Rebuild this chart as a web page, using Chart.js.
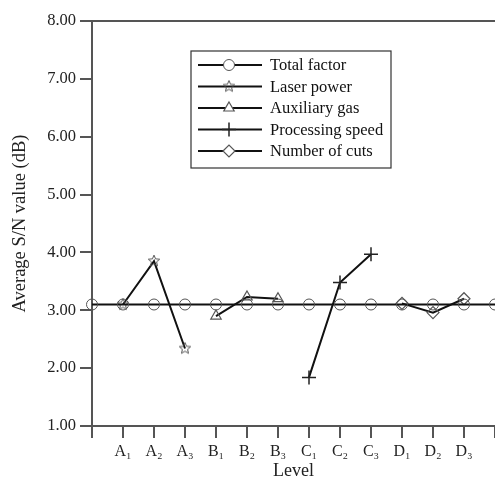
<!DOCTYPE html>
<html>
<head>
<meta charset="utf-8">
<script src="https://cdn.jsdelivr.net/npm/chart.js@4.4.0/dist/chart.umd.min.js"></script>
<style>
  html, body { margin: 0; padding: 0; background: #fff; }
  #wrap { width: 495px; height: 480px; position: relative; }
</style>
</head>
<body>
<div id="wrap"><canvas id="snChart"></canvas></div>
<script>
// level labels (blank at both ends like the original plot)
const levels = ['', 'A\u2081', 'A\u2082', 'A\u2083', 'B\u2081', 'B\u2082', 'B\u2083', 'C\u2081', 'C\u2082', 'C\u2083', 'D\u2081', 'D\u2082', 'D\u2083', ''];

const totalFactor = [3.10, 3.10, 3.10, 3.10, 3.10, 3.10, 3.10, 3.10, 3.10, 3.10, 3.10, 3.10, 3.10, 3.10];
const laserPower = [null, 3.10, 3.85, 2.34, null, null, null, null, null, null, null, null, null, null];
const auxGas = [null, null, null, null, 2.90, 3.23, 3.20, null, null, null, null, null, null, null];
const procSpeed = [null, null, null, null, null, null, null, 1.84, 3.48, 3.97, null, null, null, null];
const numCuts = [null, null, null, null, null, null, null, null, null, null, 3.12, 2.96, 3.20, null];

const yTicks = [1, 2, 3, 4, 5, 6, 7, 8];

const axisGray = '#555';
const serif = "'Liberation Serif', 'Times New Roman', serif";

// outline 5-point star marker
function makeStar(r) {
    const c = document.createElement('canvas');
    c.width = r * 2 + 4;
    c.height = r * 2 + 4;
    const g = c.getContext('2d');
    const cx = c.width / 2, cy = c.height / 2;
    g.beginPath();
    for (let i = 0; i < 10; i++) {
        const rad = i % 2 === 0 ? r : r * 0.45;
        const a = -Math.PI / 2 + i * Math.PI / 5;
        const px = cx + rad * Math.cos(a), py = cy + rad * Math.sin(a);
        if (i === 0) g.moveTo(px, py); else g.lineTo(px, py);
    }
    g.closePath();
    g.strokeStyle = axisGray;
    g.lineWidth = 1;
    g.stroke();
    return c;
}
const star = makeStar(6);

function series(label, data, style, radius, pColor, pWidth) {
    return {
        label: label,
        data: data,
        borderColor: '#111',
        borderWidth: 2,
        pointStyle: style,
        pointRadius: radius,
        pointHoverRadius: radius,
        pointBorderColor: pColor,
        pointBorderWidth: pWidth,
        pointBackgroundColor: 'transparent',
        spanGaps: false,
        tension: 0,
        clip: false
    };
}

const sets = [
    series('Total factor', totalFactor, 'circle', 5.5, axisGray, 1),
    series('Laser power', laserPower, star, 6, axisGray, 1),
    series('Auxiliary gas', auxGas, 'triangle', 6, axisGray, 1.2),
    series('Processing speed', procSpeed, 'cross', 7, '#222', 1.5),
    series('Number of cuts', numCuts, 'rectRot', 6, axisGray, 1.2)
];

// legend box with line + marker samples
const boxLegend = {
    id: 'boxLegend',
    afterDraw(c) {
        const ctx = c.ctx;
        const bx = 191, by = 51, bw = 200, bh = 117;
        ctx.save();
        ctx.strokeStyle = '#333';
        ctx.lineWidth = 1.2;
        ctx.strokeRect(bx, by, bw, bh);
        ctx.font = '16.5px ' + serif;
        ctx.textBaseline = 'middle';
        ctx.fillStyle = '#111';
        sets.forEach((ds, i) => {
            const y = 65 + i * 21.5;
            ctx.beginPath();
            ctx.strokeStyle = '#111';
            ctx.lineWidth = 2;
            ctx.moveTo(198, y);
            ctx.lineTo(262, y);
            ctx.stroke();
            ctx.fillStyle = '#fff';
            ctx.strokeStyle = ds.pointBorderColor;
            ctx.lineWidth = ds.pointBorderWidth;
            Chart.helpers.drawPoint(ctx, {pointStyle: ds.pointStyle, radius: ds.pointRadius, borderWidth: ds.pointBorderWidth, rotation: 0}, 229, y);
            ctx.fillStyle = '#111';
            ctx.fillText(ds.label, 270, y + 1);
        });
        // top frame line
        const a = c.chartArea;
        ctx.beginPath();
        ctx.strokeStyle = axisGray;
        ctx.lineWidth = 2;
        ctx.moveTo(a.left, a.top);
        ctx.lineTo(c.width, a.top);
        ctx.stroke();
        ctx.restore();
    }
};

let snChart = new Chart(document.getElementById('snChart').getContext('2d'), {
    type: 'line',
    data: {
        labels: levels,
        datasets: sets
    },
    options: {
        responsive: true,
        maintainAspectRatio: false,
        animation: false,
        layout: { autoPadding: false, padding: { top: 21, right: 0, left: 0, bottom: 0 } },
        plugins: {
            legend: { display: false },
            tooltip: { enabled: false }
        },
        scales: {
            x: {
                offset: false,
                afterFit: (s) => { s.height = 54; s.paddingRight = 0; s.paddingLeft = 0; },
                grid: { drawOnChartArea: false, tickLength: 12, color: axisGray, lineWidth: 2 },
                border: { color: axisGray, width: 2 },
                ticks: {
                    autoSkip: false,
                    maxRotation: 0,
                    padding: 4,
                    color: '#222',
                    font: { family: serif, size: 16 }
                },
                title: {
                    display: true,
                    text: 'Level',
                    color: '#222',
                    padding: 0,
                    font: { family: serif, size: 18, lineHeight: 1 }
                }
            },
            y: {
                min: 1,
                max: 8,
                afterFit: (s) => { s.width = 92; },
                afterBuildTicks: (s) => { s.ticks = yTicks.map(v => ({ value: v })); },
                grid: { drawOnChartArea: false, tickLength: 12, color: axisGray, lineWidth: 2 },
                border: { color: axisGray, width: 2 },
                ticks: {
                    padding: 4,
                    color: '#222',
                    font: { family: serif, size: 16.5 },
                    callback: (v) => Number(v).toFixed(2)
                },
                title: {
                    display: true,
                    text: 'Average S/N value (dB)',
                    color: '#222',
                    padding: { top: 9, bottom: 0 },
                    font: { family: serif, size: 18.5 }
                }
            }
        }
    },
    plugins: [boxLegend]
});
</script>
</body>
</html>
